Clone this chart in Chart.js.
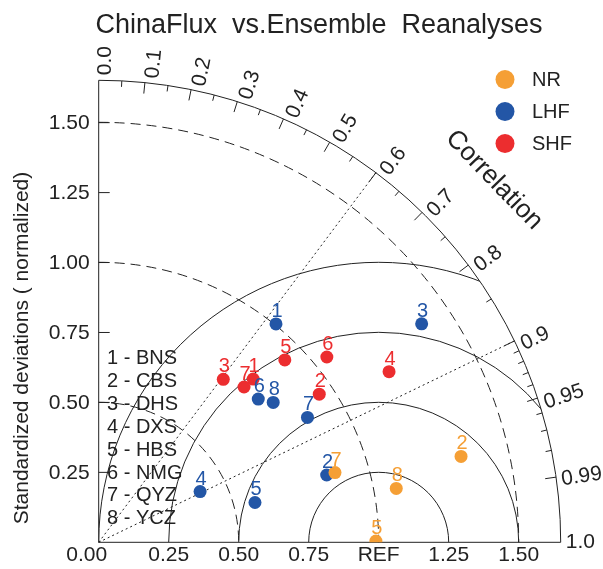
<!DOCTYPE html>
<html>
<head>
<meta charset="utf-8">
<script src="https://cdn.jsdelivr.net/npm/chart.js@4"></script>
<style>
  body { margin: 0; background: #fff; }
  canvas { display: block; }
</style>
</head>
<body>
<canvas id="taylor" width="603" height="569" style="width:603px;height:569px"></canvas>
<script>
// stations (numbered 1..8 on the plot)
const stations = ['BNS', 'CBS', 'DHS', 'DXS', 'HBS', 'NMG', 'QYZ', 'YCZ'];

// NR - net radiation
const nrSites = [2, 5, 7, 8];
const nrStd = [1.33, 0.99, 0.88, 1.08];
const nrCorr = [0.973, 0.99999, 0.959, 0.984];

// LHF - latent heat flux
const lhfSites = [1, 2, 3, 4, 5, 6, 7, 8];
const lhfStd = [1.005, 0.849, 1.393, 0.405, 0.576, 0.766, 0.869, 0.799];
const lhfCorr = [0.630, 0.959, 0.828, 0.894, 0.969, 0.744, 0.858, 0.780];

// SHF - sensible heat flux
const shfSites = [1, 2, 3, 4, 5, 6, 7];
const shfStd = [0.803, 0.949, 0.733, 1.203, 0.931, 1.050, 0.760];
const shfCorr = [0.687, 0.830, 0.607, 0.862, 0.714, 0.776, 0.683];

// axes
const stdMax = 1.65;
const stdTicks = [0.25, 0.5, 0.75, 1.0, 1.25, 1.5];
const stdTickLabels = ['0.25', '0.50', '0.75', '1.00', '1.25', '1.50'];
const xTicks = [0, 0.25, 0.5, 0.75, 1.0, 1.25, 1.5];
const xTickLabels = ['0.00', '0.25', '0.50', '0.75', 'REF', '1.25', '1.50'];
const corrTicks = [0, 0.1, 0.2, 0.3, 0.4, 0.5, 0.6, 0.7, 0.8, 0.9, 0.95, 0.99, 1.0];
const corrTickLabels = ['0.0', '0.1', '0.2', '0.3', '0.4', '0.5', '0.6', '0.7', '0.8', '0.9', '0.95', '0.99', '1.0'];
const corrMinor = [0.05, 0.15, 0.25, 0.35, 0.45, 0.55, 0.65, 0.75, 0.85, 0.91, 0.92, 0.93, 0.94, 0.96, 0.97, 0.98];
const stdArcs = [0.5, 1.0, 1.5];
const corrLines = [0.6, 0.9];
const rmsArcs = [0.25, 0.5, 0.75, 1.0];

const FONT = "'Liberation Sans', Arial, Helvetica, sans-serif";
const INK = '#222';
const colNR = '#f59f35';
const colLHF = '#2356a6';
const colSHF = '#ec2d2f';

function toPoints(std, corr) {
    return std.map((s, i) => ({ x: s * corr[i], y: s * Math.sqrt(Math.max(0, 1 - corr[i] * corr[i])) }));
}

function makeSet(label, sites, std, corr, color) {
    return {
        label: label,
        sites: sites,
        data: toPoints(std, corr),
        backgroundColor: color,
        borderWidth: 0,
        pointRadius: 6.5,
        pointHoverRadius: 6.5,
        clip: 0
    };
}

const taylorPlugin = {
    id: 'taylor',
    beforeDatasetsDraw(chart) {
        const ctx = chart.ctx;
        const xs = chart.scales.x, ys = chart.scales.y;
        const ox = xs.getPixelForValue(0), oy = ys.getPixelForValue(0);
        const unit = xs.getPixelForValue(1) - ox;
        const R = stdMax * unit;
        const P = (s, c) => [ox + s * c * unit, oy - s * Math.sqrt(1 - c * c) * unit];

        ctx.save();
        ctx.strokeStyle = INK;
        ctx.lineWidth = 1;

        // dashed std arcs
        ctx.setLineDash([10, 6]);
        stdArcs.forEach(r => {
            ctx.beginPath();
            ctx.arc(ox, oy, r * unit, -Math.PI / 2, 0);
            ctx.stroke();
        });

        // dotted correlation rays
        ctx.setLineDash([2, 3]);
        corrLines.forEach(c => {
            const p = P(stdMax, c);
            ctx.beginPath();
            ctx.moveTo(ox, oy);
            ctx.lineTo(p[0], p[1]);
            ctx.stroke();
        });
        ctx.setLineDash([]);

        // centred RMS arcs around REF, clipped to the quarter disc
        ctx.save();
        ctx.beginPath();
        ctx.moveTo(ox, oy);
        ctx.arc(ox, oy, R, -Math.PI / 2, 0);
        ctx.closePath();
        ctx.clip();
        const refX = xs.getPixelForValue(1);
        rmsArcs.forEach(r => {
            ctx.beginPath();
            ctx.arc(refX, oy, r * unit, Math.PI, 2 * Math.PI);
            ctx.stroke();
        });
        ctx.restore();

        // frame
        ctx.beginPath();
        ctx.moveTo(ox, oy - R);
        ctx.lineTo(ox, oy);
        ctx.lineTo(ox + R, oy);
        ctx.arc(ox, oy, R, 0, -Math.PI / 2, true);
        ctx.stroke();

        // std ticks on the y axis
        stdTicks.forEach(v => {
            const y = ys.getPixelForValue(v);
            ctx.beginPath();
            ctx.moveTo(ox, y);
            ctx.lineTo(ox + 11, y);
            ctx.stroke();
        });

        // correlation ticks on the outer arc
        const tick = (c, len) => {
            const a = P(stdMax, c);
            const b = P(stdMax - len / unit, c);
            ctx.beginPath();
            ctx.moveTo(a[0], a[1]);
            ctx.lineTo(b[0], b[1]);
            ctx.stroke();
        };
        corrTicks.forEach(c => { if (c > 0 && c < 1) tick(c, 11); });
        corrMinor.forEach(c => tick(c, 6));
        ctx.restore();
    },
    afterDatasetsDraw(chart) {
        const ctx = chart.ctx;
        const xs = chart.scales.x, ys = chart.scales.y;
        const ox = xs.getPixelForValue(0), oy = ys.getPixelForValue(0);
        const unit = xs.getPixelForValue(1) - ox;
        const R = stdMax * unit;

        ctx.save();
        // station numbers above the markers
        ctx.font = '20px ' + FONT;
        ctx.textAlign = 'center';
        ctx.textBaseline = 'alphabetic';
        chart.data.datasets.forEach((ds, di) => {
            const meta = chart.getDatasetMeta(di);
            ctx.fillStyle = ds.backgroundColor;
            meta.data.forEach((pt, i) => {
                ctx.fillText(String(ds.sites[i]), pt.x + 1, pt.y - 7);
            });
        });

        ctx.fillStyle = INK;
        // y tick labels
        ctx.font = '21px ' + FONT;
        ctx.textAlign = 'right';
        ctx.textBaseline = 'middle';
        stdTicks.forEach((v, i) => ctx.fillText(stdTickLabels[i], ox - 9, ys.getPixelForValue(v) + 1));

        // x tick labels
        ctx.textAlign = 'center';
        ctx.textBaseline = 'top';
        xTicks.forEach((v, i) => {
            const x = xs.getPixelForValue(v) - (v === 0 ? 12 : 0);
            ctx.fillText(xTickLabels[i], x, oy + 2);
        });

        // correlation labels, along the rays
        ctx.textAlign = 'left';
        ctx.textBaseline = 'middle';
        corrTicks.forEach((c, i) => {
            const th = Math.acos(c);
            const shift = c >= 0.999 ? 0 : (c >= 0.985 ? 3 : 7);
            ctx.save();
            ctx.translate(ox + (R + 5) * Math.cos(th), oy - (R + 5) * Math.sin(th));
            ctx.rotate(-th);
            ctx.fillText(corrTickLabels[i], 0, shift);
            ctx.restore();
        });

        // axis titles
        ctx.font = '26px ' + FONT;
        ctx.textAlign = 'center';
        ctx.save();
        ctx.translate(494, 180);
        ctx.rotate(46 * Math.PI / 180);
        ctx.fillText('Correlation', 0, 0);
        ctx.restore();

        ctx.font = '21px ' + FONT;
        ctx.save();
        ctx.translate(22, 348);
        ctx.rotate(-Math.PI / 2);
        ctx.fillText('Standardized deviations ( normalized)', 0, 0);
        ctx.restore();

        // title
        ctx.font = '27px ' + FONT;
        ctx.textBaseline = 'alphabetic';
        ctx.fillText('ChinaFlux  vs.Ensemble  Reanalyses', 319, 33);

        // station key
        ctx.font = '20px ' + FONT;
        ctx.textAlign = 'left';
        ctx.textBaseline = 'middle';
        stations.forEach((s, i) => ctx.fillText((i + 1) + ' - ' + s, 107, 358.5 + i * 22.9));

        // series legend
        chart.data.datasets.forEach((ds, i) => {
            const y = 79.5 + i * 32;
            ctx.fillStyle = ds.backgroundColor;
            ctx.beginPath();
            ctx.arc(505, y, 9.5, 0, 2 * Math.PI);
            ctx.fill();
            ctx.fillStyle = INK;
            ctx.fillText(ds.label, 532, y + 1);
        });
        ctx.restore();
    }
};

new Chart(document.getElementById('taylor'), {
    type: 'scatter',
    data: {
        datasets: [
            makeSet('NR', nrSites, nrStd, nrCorr, colNR),
            makeSet('LHF', lhfSites, lhfStd, lhfCorr, colLHF),
            makeSet('SHF', shfSites, shfStd, shfCorr, colSHF)
        ]
    },
    options: {
        responsive: false,
        animation: false,
        events: [],
        layout: { padding: { left: 98.7, top: 80.7, right: 42.3, bottom: 26.7 } },
        plugins: { legend: { display: false }, tooltip: { enabled: false } },
        scales: {
            x: { type: 'linear', min: 0, max: stdMax, display: false },
            y: { type: 'linear', min: 0, max: stdMax, display: false }
        }
    },
    plugins: [taylorPlugin]
});
</script>
</body>
</html>
